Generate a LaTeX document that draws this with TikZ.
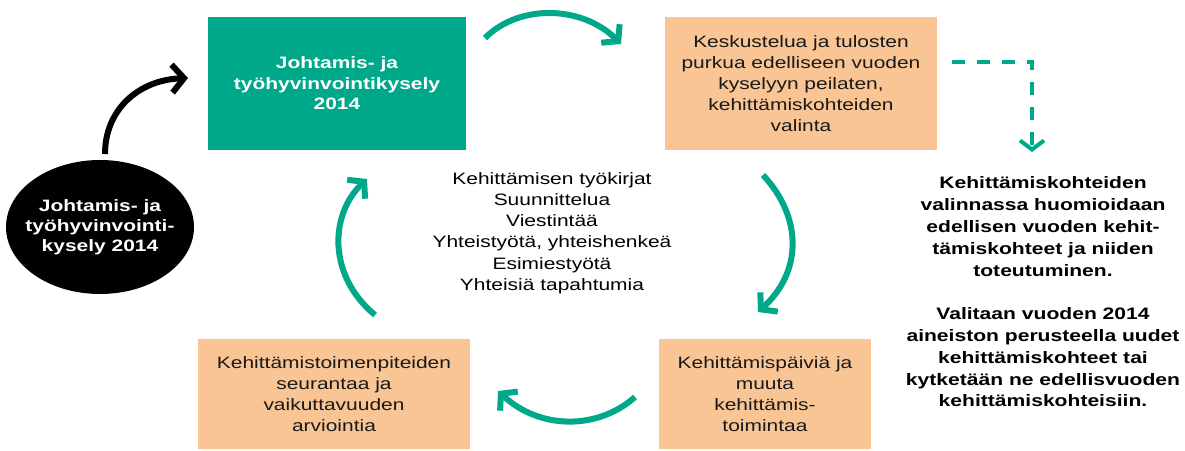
\documentclass[tikz,border=0pt]{standalone}
\usepackage{fontspec}
\setmainfont{Liberation Sans}[FakeStretch=1.27]
\usetikzlibrary{arrows.meta,shapes.geometric}
\definecolor{teal}{HTML}{00A88A}
\definecolor{peach}{HTML}{FAC595}
\tikzset{
  box/.style={rectangle, inner sep=0pt, align=center},
  greenbox/.style={box, fill=teal, text=white, font=\fontsize{16.5}{20.5}\selectfont\bfseries},
  peachbox/.style={box, fill=peach, text=black!90, font=\fontsize{16.5}{21}\selectfont},
  cyc/.style={draw=teal, line width=6pt, -{Straight Barb[length=11pt,width=26pt,line join=miter]}},
  blk/.style={draw=black, line width=6pt, -{Straight Barb[length=12pt,width=28pt,line join=miter]}},
  dsh/.style={draw=teal, line width=4pt, dash pattern=on 13pt off 12pt, -{Straight Barb[length=9pt,width=24pt,line join=miter]}},
}
\begin{document}
\begin{tikzpicture}[x=1pt,y=-1pt]
\useasboundingbox (0,0) rectangle (1185,450);
% boxes
\node[greenbox, minimum width=258pt, minimum height=133pt] (survey) at (337,83.5) {Johtamis- ja\\työhyvinvointikysely\\2014};
\node[peachbox, minimum width=272pt, minimum height=133pt] (discuss) at (801,83.5) {Keskustelua ja tulosten\\purkua edelliseen vuoden\\kyselyyn peilaten,\\kehittämiskohteiden\\valinta};
\node[peachbox, minimum width=212pt, minimum height=110pt] (days) at (765,394) {Kehittämispäiviä ja\\muuta\\kehittämis-\\toimintaa};
\node[peachbox, minimum width=272pt, minimum height=110pt] (follow) at (334,394) {Kehittämistoimenpiteiden\\seurantaa ja\\vaikuttavuuden\\arviointia};
% ellipse
\node[ellipse, fill=black, minimum width=188pt, minimum height=134pt, inner sep=0pt] (prev) at (100,227) {};
\node[align=center, text=white, inner sep=0pt, font=\fontsize{16.5}{20}\selectfont\bfseries] (prevtext) at (prev.center) {Johtamis- ja\\työhyvinvointi-\\kysely 2014};
% centre text
\node[align=center, font=\fontsize{16.5}{21.3}\selectfont] (tools) at (552,233) {Kehittämisen työkirjat\\Suunnittelua\\Viestintää\\Yhteistyötä, yhteishenkeä\\Esimiestyötä\\Yhteisiä tapahtumia};
% right text
\node[align=center, font=\fontsize{16.6}{21.8}\selectfont\bfseries] (note) at (1043,292) {Kehittämiskohteiden\\valinnassa huomioidaan\\edellisen vuoden kehit-\\tämiskohteet ja niiden\\toteutuminen.\\[21.8pt]Valitaan vuoden 2014\\aineiston perusteella uudet\\kehittämiskohteet tai\\kytketään ne edellisvuoden\\kehittämiskohteisiin.};
% connector endpoints
\coordinate (a1s) at (485,38);  \coordinate (a1e) at (621,44);
\coordinate (a2s) at (763,175); \coordinate (a2e) at (758,312);
\coordinate (a3s) at (635,397); \coordinate (a3e) at (498,391);
\coordinate (a4s) at (375,315); \coordinate (a4e) at (367,179);
\coordinate (bs) at (105,154);  \coordinate (be) at (188,78);
\coordinate (ds) at (952,62); \coordinate (dc) at (1032,62); \coordinate (de) at (1032,152);
% cycle arrows
\draw[cyc] (a1s) .. controls (520,3) and (583,6) .. (a1e);
\draw[cyc] (a2s) .. controls (803,218) and (802,272) .. (a2e);
\draw[cyc] (a3s) .. controls (598,430) and (540,430) .. (a3e);
\draw[cyc] (a4s) .. controls (327,275) and (330,214) .. (a4e);
% black arrow
\draw[blk] (bs) .. controls (105,110) and (138,80) .. (be);
% dashed arrow
\draw[dsh] (ds) -- (dc) -- (de);
\end{tikzpicture}
\end{document}
